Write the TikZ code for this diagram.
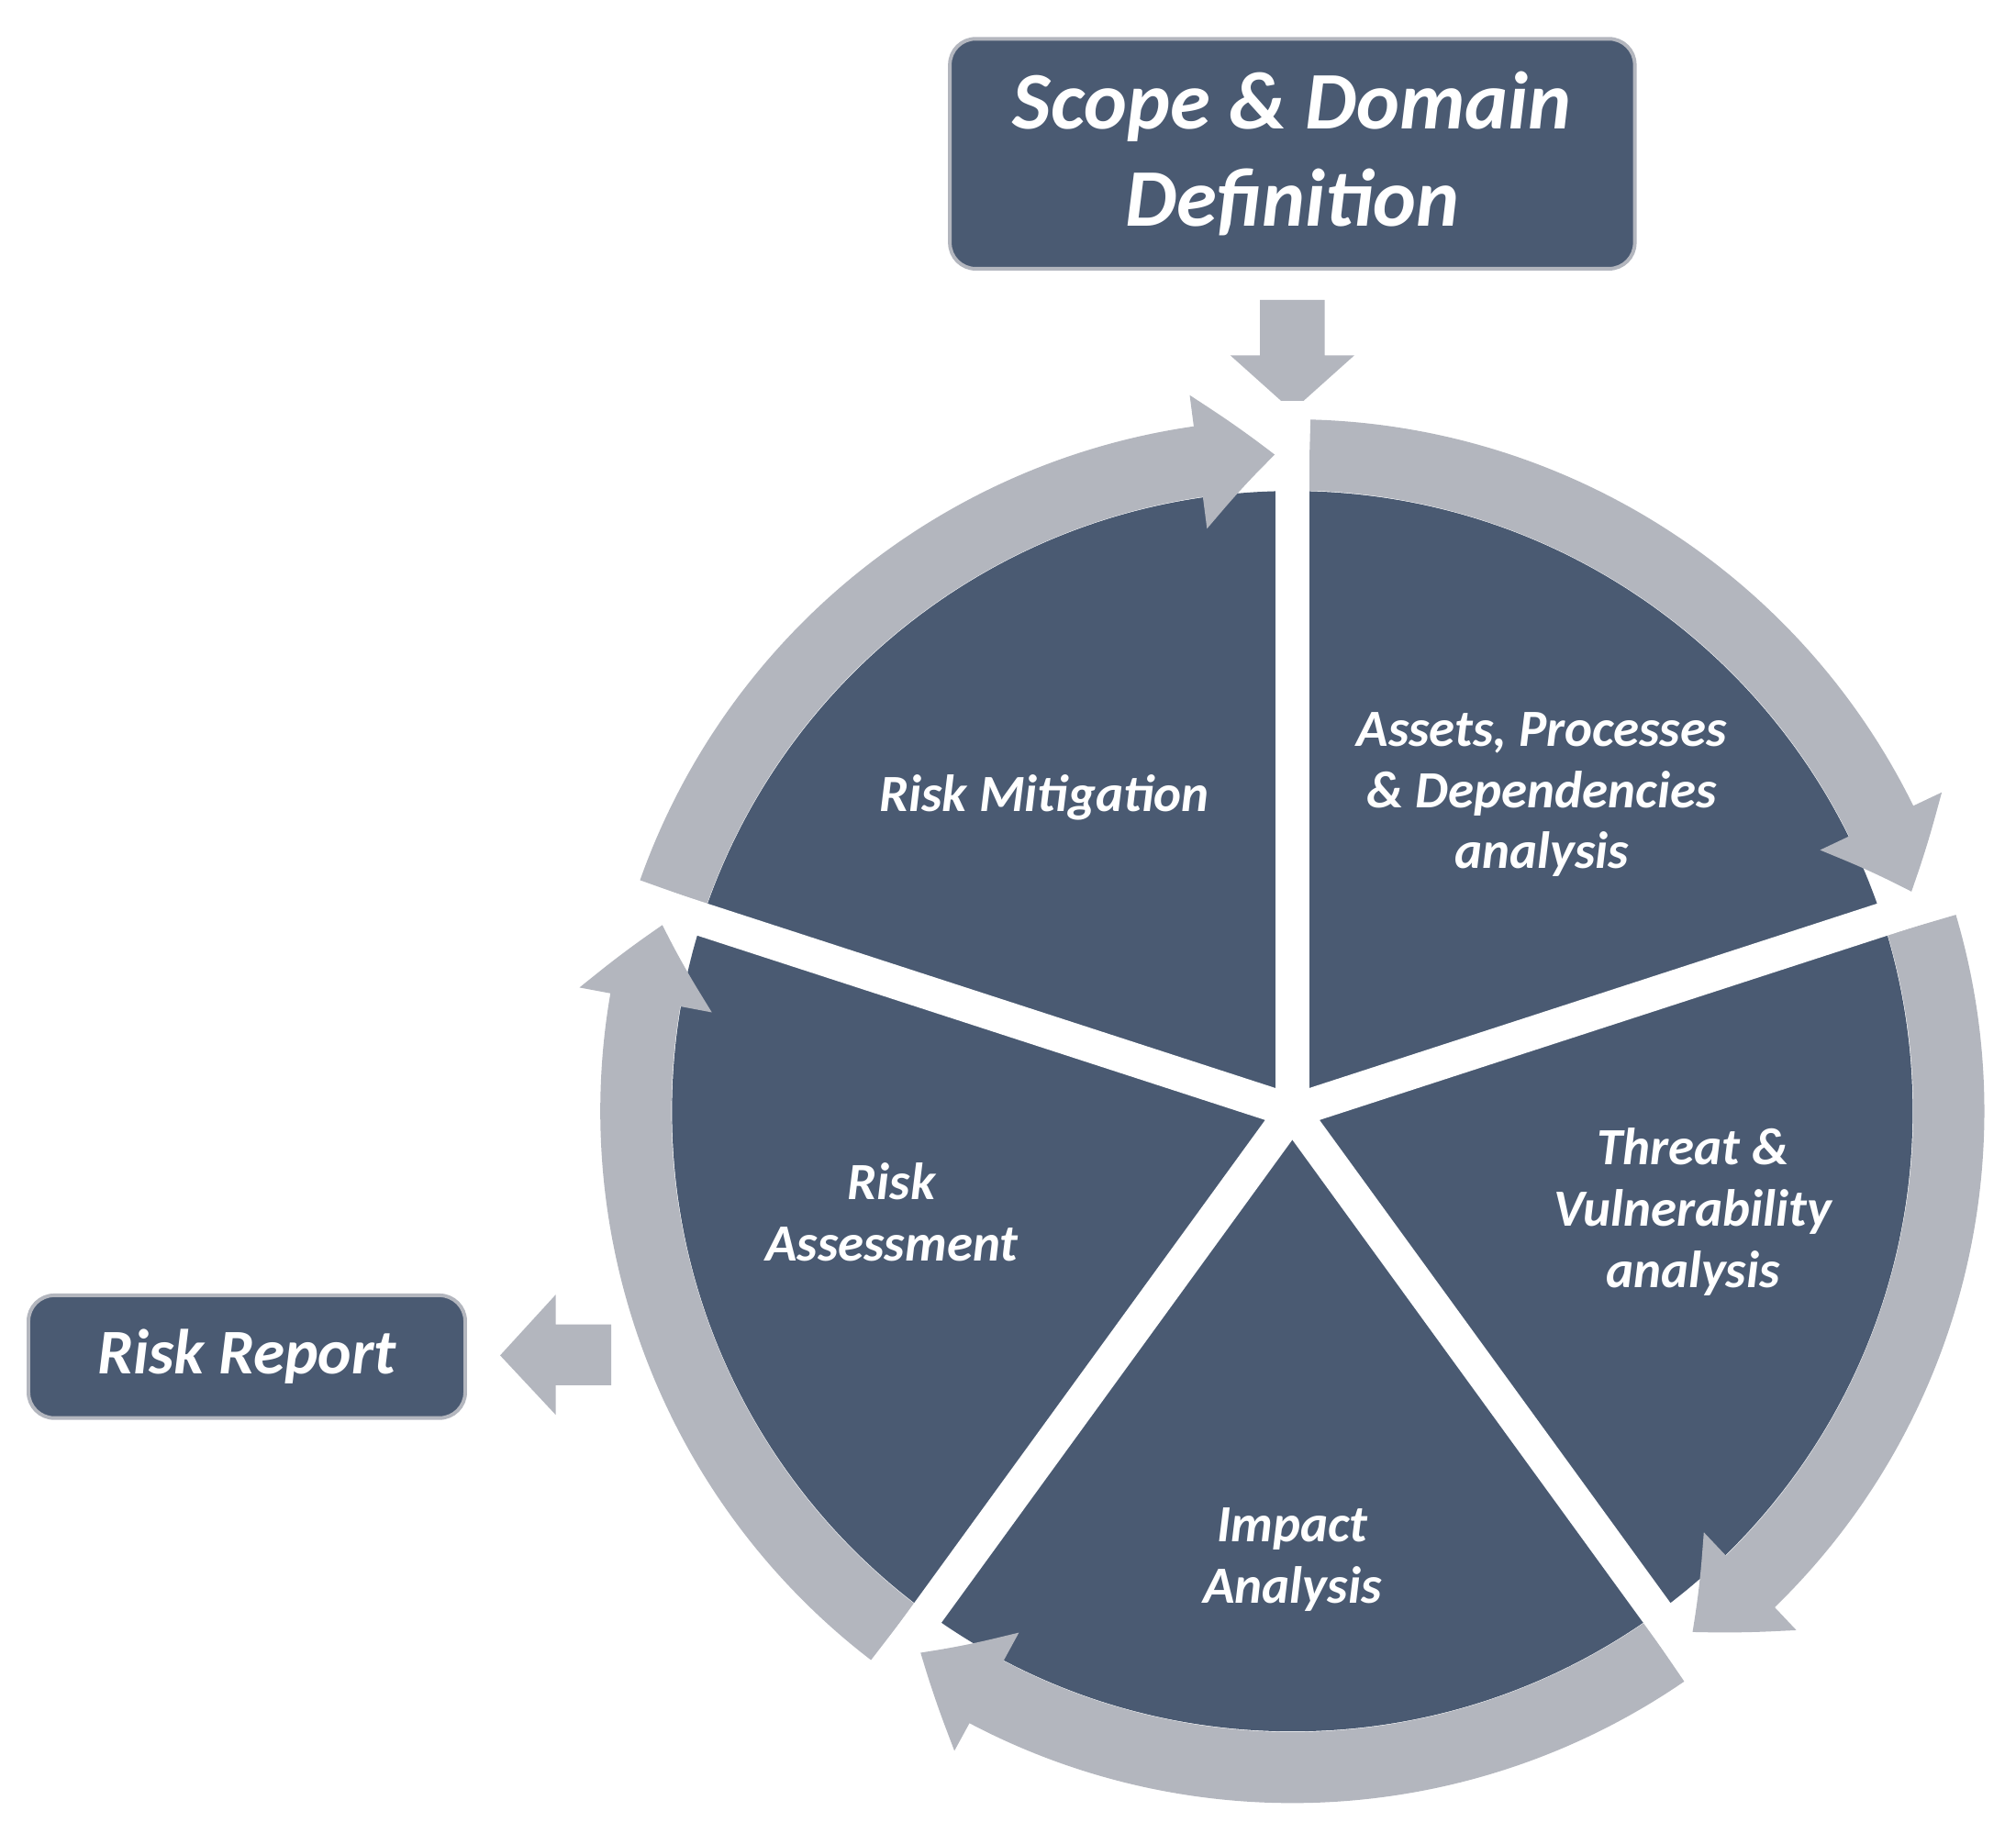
\documentclass[tikz,border=0pt]{standalone}
\usepackage{fontspec}
\setmainfont{Carlito}
\usetikzlibrary{arrows.meta,bending,calc,positioning}
\definecolor{slate}{HTML}{4A5A72}
\definecolor{ringgray}{HTML}{B3B6BE}
\begin{document}
\begin{tikzpicture}
\tikzstyle{box} = [rectangle, rounded corners=0.2cm, fill=slate, draw=ringgray, line width=0.8pt, text=white, font=\bfseries\itshape, align=center]
\tikzstyle{lbl} = [text=white, font=\fontsize{11.5}{13.5}\selectfont\bfseries\itshape, align=center]
\tikzstyle{ring} = [ringgray, line width=0.55cm, -{Triangle[length=0.6cm, width=1.0cm, bend]}]
\useasboundingbox (0,0) rectangle (15.6,-14.1);
\coordinate (c) at (10,-8.6);
% top and left boxes
\node (scope) [box, minimum width=5.3cm, minimum height=1.78cm, font=\fontsize{18}{21.5}\selectfont\bfseries\itshape] at (10,-1.19) {Scope \& Domain\\Definition};
\node (report) [box, minimum width=3.38cm, minimum height=0.95cm, font=\fontsize{14}{16}\selectfont\bfseries\itshape] at (1.91,-10.5) {Risk Report};
% block arrows
\fill[ringgray] (9.75,-2.32) -- (10.25,-2.32) -- (10.25,-2.75) -- (10.48,-2.75) -- (10,-3.18) -- (9.52,-2.75) -- (9.75,-2.75) -- cycle;
\fill[ringgray] (4.73,-10.25) -- (4.73,-10.72) -- (4.30,-10.72) -- (4.30,-10.95) -- (3.87,-10.49) -- (4.30,-10.02) -- (4.30,-10.25) -- cycle;
% pie
\fill[slate] (c) circle[radius=4.8];
% ring arrows
\foreach \a in {90,18,-54,-126,162}
  \draw[ring] ($(c)+(\a-1.5:5.08)$) arc[start angle=\a-1.5, end angle=\a-70.5, radius=5.08];
% white gaps
\foreach \a in {90,18,-54,-126,162}
  \draw[white, line width=0.26cm] (c) -- ++(\a:5.5);
% labels
\node (mit) [lbl] at (8.08,-6.17) {Risk Mitigation};
\node (ast) [lbl] at (11.93,-6.15) {Assets, Processes\\\& Dependencies\\analysis};
\node (thr) [lbl] at (13.1,-9.38) {Threat \&\\Vulnerability\\analysis};
\node (imp) [lbl] at (10,-12.07) {Impact\\Analysis};
\node (ass) [lbl] at (6.9,-9.38) {Risk\\Assessment};
\end{tikzpicture}
\end{document}
